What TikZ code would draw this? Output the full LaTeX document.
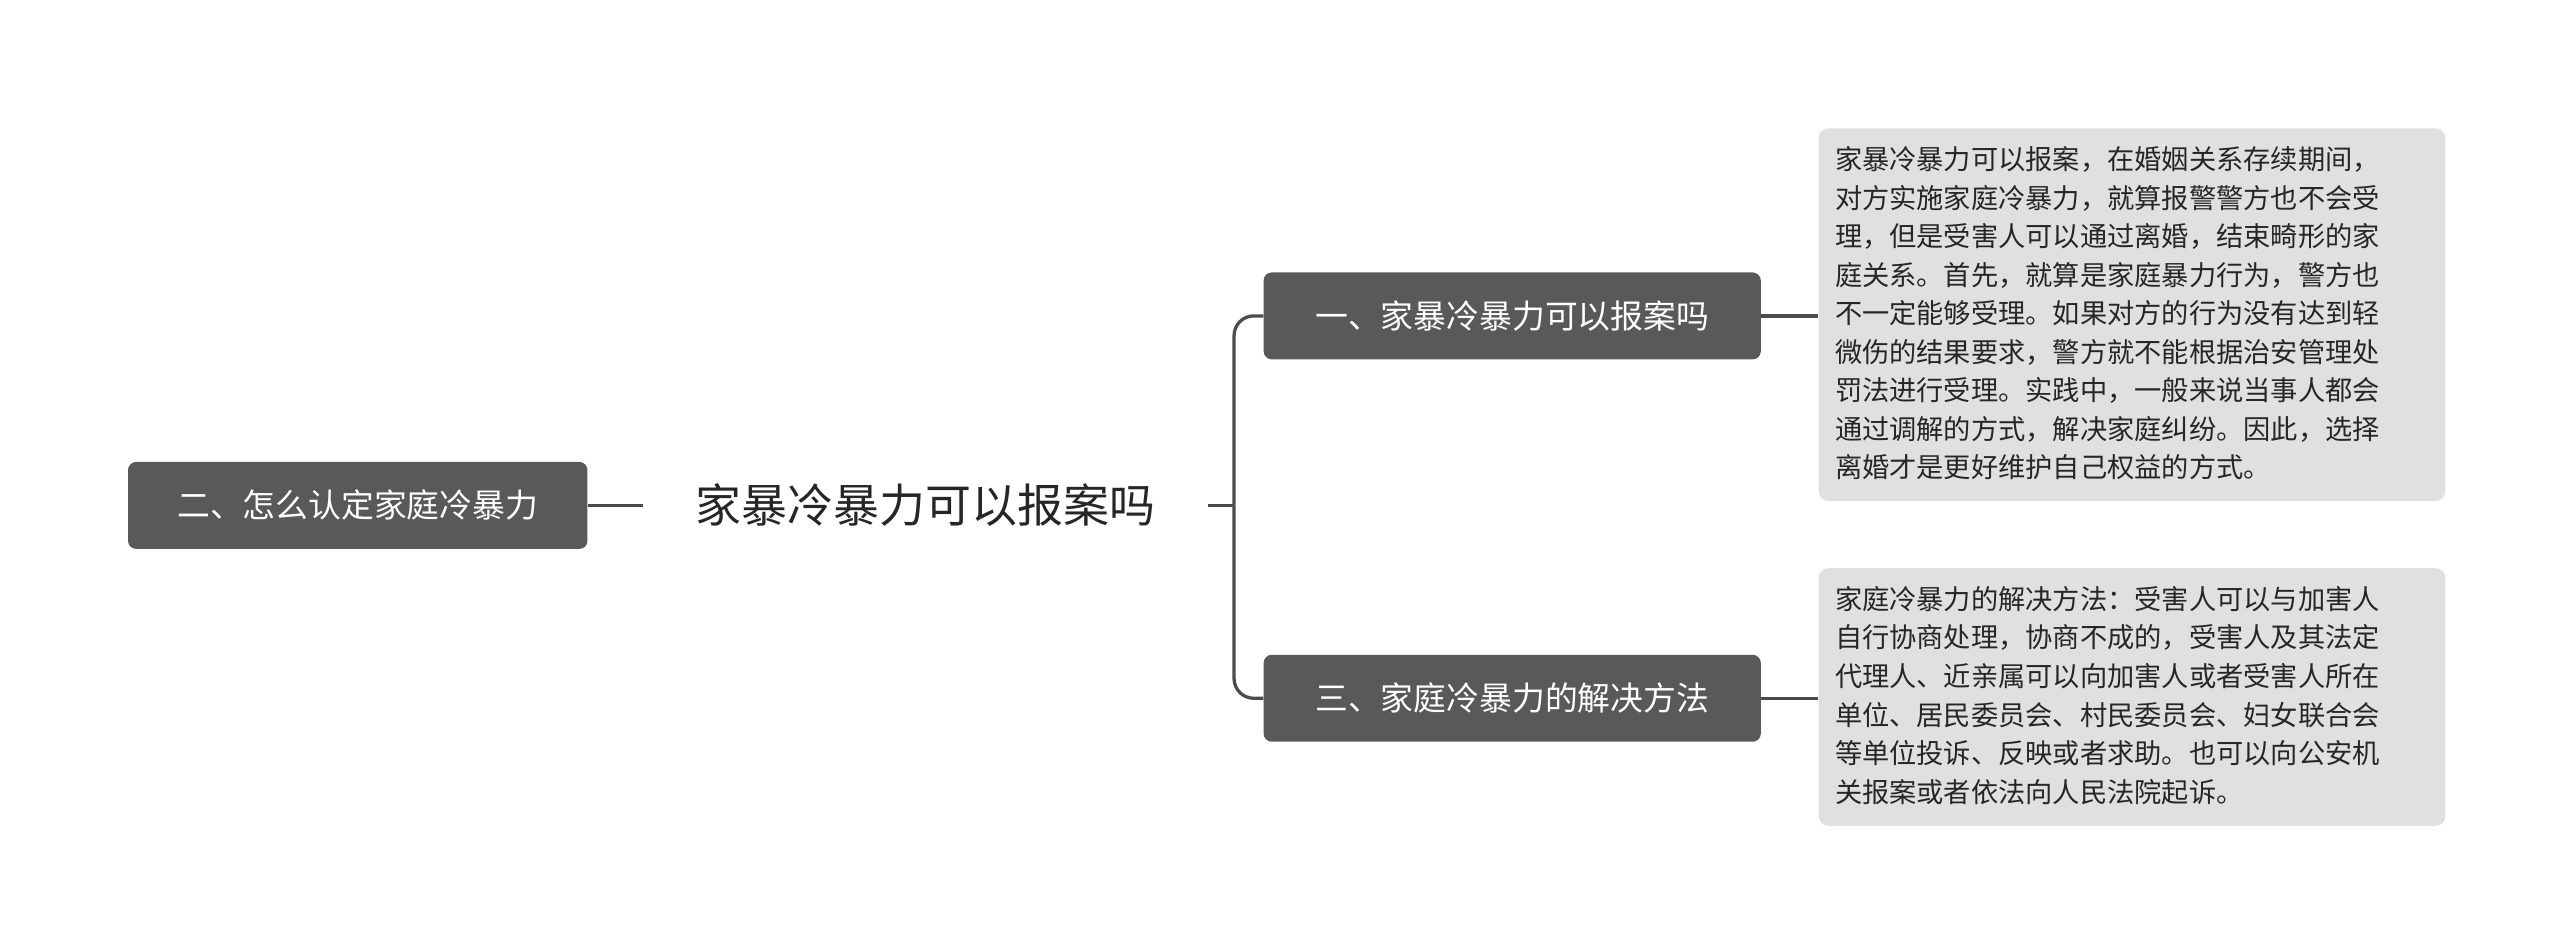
\documentclass[tikz,border=0pt]{standalone}
\usepackage{fontspec}
\setmainfont{Noto Sans CJK SC}
\begin{document}
\begin{tikzpicture}[x=1pt,y=-1pt,
  dark/.style={fill=black!65,text=white,rounded corners=5pt,minimum height=53pt,font=\fontsize{20}{24}\selectfont,inner sep=0pt},
  light/.style={fill=black!12,text=black!80,rounded corners=6pt,anchor=north west,inner sep=0pt},
  conn/.style={draw=black!70,line width=2pt}]
\useasboundingbox (0,0) rectangle (1560,580);
\node[dark,minimum width=280pt] (l) at (218,308) {二、怎么认定家庭冷暴力};
\node[font=\fontsize{28}{32}\selectfont,text=black!85,minimum width=344pt,inner sep=0pt] (c) at (564,308) {家暴冷暴力可以报案吗};
\node[dark,minimum width=303pt] (n1) at (921.5,192.5) {一、家暴冷暴力可以报案吗};
\node[dark,minimum width=303pt] (n3) at (921.5,425.5) {三、家庭冷暴力的解决方法};
\node[light,minimum width=382pt,minimum height=227pt] (t1) at (1108,78) {};
\node[light,minimum width=382pt,minimum height=157pt] (t2) at (1108,346) {};
\node[anchor=north west,align=left,inner sep=0pt,text=black!85,font=\fontsize{16.6}{23.5}\selectfont] (t1t) at (1118,89) {家暴冷暴力可以报案，在婚姻关系存续期间，\\对方实施家庭冷暴力，就算报警警方也不会受\\理，但是受害人可以通过离婚，结束畸形的家\\庭关系。首先，就算是家庭暴力行为，警方也\\不一定能够受理。如果对方的行为没有达到轻\\微伤的结果要求，警方就不能根据治安管理处\\罚法进行受理。实践中，一般来说当事人都会\\通过调解的方式，解决家庭纠纷。因此，选择\\离婚才是更好维护自己权益的方式。};
\node[anchor=north west,align=left,inner sep=0pt,text=black!85,font=\fontsize{16.6}{23.5}\selectfont] (t2t) at (1118,357) {家庭冷暴力的解决方法：受害人可以与加害人\\自行协商处理，协商不成的，受害人及其法定\\代理人、近亲属可以向加害人或者受害人所在\\单位、居民委员会、村民委员会、妇女联合会\\等单位投诉、反映或者求助。也可以向公安机\\关报案或者依法向人民法院起诉。};
\coordinate (j) at (752,308);
\draw[conn] (l.east) -- (c.west);
\draw[conn] (c.east) -- (j);
\draw[conn,rounded corners=12pt] (j) |- (n1.west);
\draw[conn,rounded corners=12pt] (j) |- (n3.west);
\draw[conn] (n1.east) -- (t1.west |- n1.east);
\draw[conn] (n3.east) -- (t2.west |- n3.east);
\end{tikzpicture}
\end{document}
